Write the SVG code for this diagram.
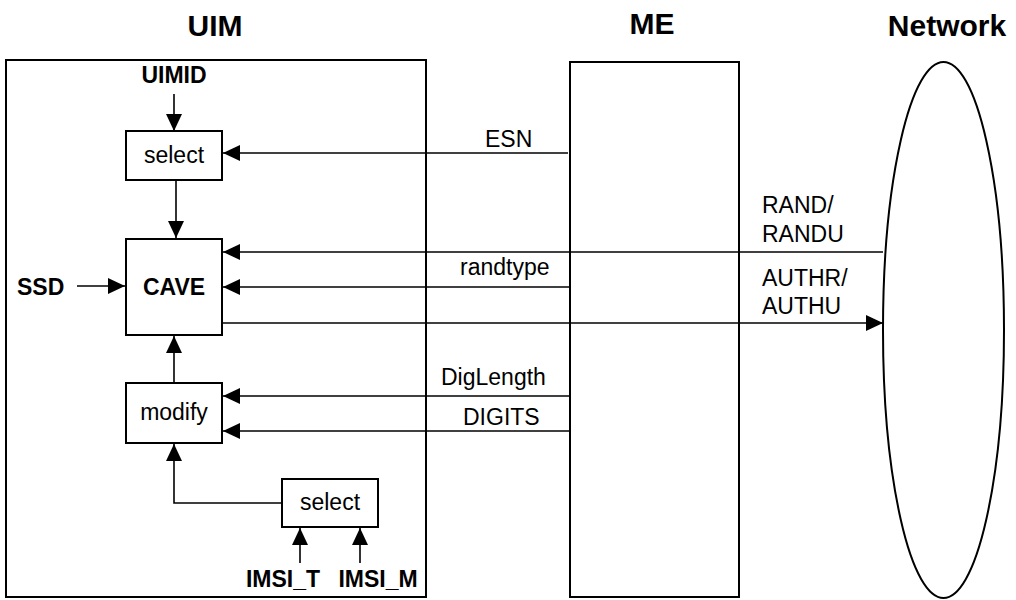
<svg xmlns="http://www.w3.org/2000/svg" width="1016" height="600" viewBox="0 0 1016 600">
<style>
.box{fill:none;stroke:#000;stroke-width:2}
.ln{fill:none;stroke:#000;stroke-width:1.6}
.t{font-family:"Liberation Sans",Arial,sans-serif;font-size:23px;fill:#000}
.b{font-weight:bold}
.title{font-family:"Liberation Sans",Arial,sans-serif;font-size:30px;font-weight:bold;fill:#000}
.m{text-anchor:middle}
</style>
<defs>
<marker id="ah" markerUnits="userSpaceOnUse" markerWidth="17" markerHeight="16" refX="17" refY="8" orient="auto">
<path d="M0,0 L17,8 L0,16 z" fill="#000"/>
</marker>
</defs>
<rect width="1016" height="600" fill="#fff"/>

<g id="uim">
<rect class="box" x="6" y="60" width="420" height="537"/>
<text class="title m" x="215" y="36">UIM</text>
</g>
<g id="me">
<rect class="box" x="570" y="62" width="169" height="535"/>
<text class="title m" x="652" y="34">ME</text>
</g>
<g id="network">
<ellipse class="box" cx="943.5" cy="330" rx="60.5" ry="268"/>
<text class="title m" x="947" y="36">Network</text>
</g>

<g id="uimid"><text class="t b m" x="174" y="83">UIMID</text></g>
<g id="select1">
<rect class="box" x="126" y="131" width="96" height="49"/>
<text class="t m" x="174" y="163">select</text>
</g>
<g id="cave">
<rect class="box" x="126" y="239" width="96" height="96"/>
<text class="t b m" x="174" y="295">CAVE</text>
</g>
<g id="ssd"><text class="t b" x="17" y="295">SSD</text></g>
<g id="modify">
<rect class="box" x="126" y="383" width="96" height="60"/>
<text class="t m" x="174" y="420">modify</text>
</g>
<g id="select2">
<rect class="box" x="282" y="479" width="96" height="48"/>
<text class="t m" x="330" y="510">select</text>
</g>
<g id="imsi_t"><text class="t b m" x="283" y="587">IMSI_T</text></g>
<g id="imsi_m"><text class="t b m" x="378" y="587">IMSI_M</text></g>

<g id="connectors">
<line class="ln" x1="174" y1="94" x2="174" y2="131" marker-end="url(#ah)"/>
<line class="ln" x1="176" y1="181" x2="176" y2="238" marker-end="url(#ah)"/>
<line class="ln" x1="77" y1="286" x2="125" y2="286" marker-end="url(#ah)"/>
<line class="ln" x1="174" y1="383" x2="174" y2="336" marker-end="url(#ah)"/>
<polyline class="ln" points="282,503 174,503 174,444" marker-end="url(#ah)"/>
<line class="ln" x1="300" y1="563" x2="300" y2="528" marker-end="url(#ah)"/>
<line class="ln" x1="360" y1="563" x2="360" y2="528" marker-end="url(#ah)"/>
<line class="ln" x1="568" y1="153" x2="223" y2="153" marker-end="url(#ah)"/>
<line class="ln" x1="883" y1="252" x2="223" y2="252" marker-end="url(#ah)"/>
<line class="ln" x1="570" y1="287" x2="223" y2="287" marker-end="url(#ah)"/>
<line class="ln" x1="222" y1="323" x2="883" y2="323" marker-end="url(#ah)"/>
<line class="ln" x1="570" y1="396" x2="223" y2="396" marker-end="url(#ah)"/>
<line class="ln" x1="570" y1="431" x2="223" y2="431" marker-end="url(#ah)"/>
<text class="t" x="485" y="147">ESN</text>
<text class="t" x="460" y="275">randtype</text>
<text class="t" x="441" y="385">DigLength</text>
<text class="t" x="463" y="425">DIGITS</text>
<text class="t" x="762" y="213">RAND/</text>
<text class="t" x="762" y="242">RANDU</text>
<text class="t" x="762" y="286">AUTHR/</text>
<text class="t" x="762" y="314">AUTHU</text>
</g>
</svg>
